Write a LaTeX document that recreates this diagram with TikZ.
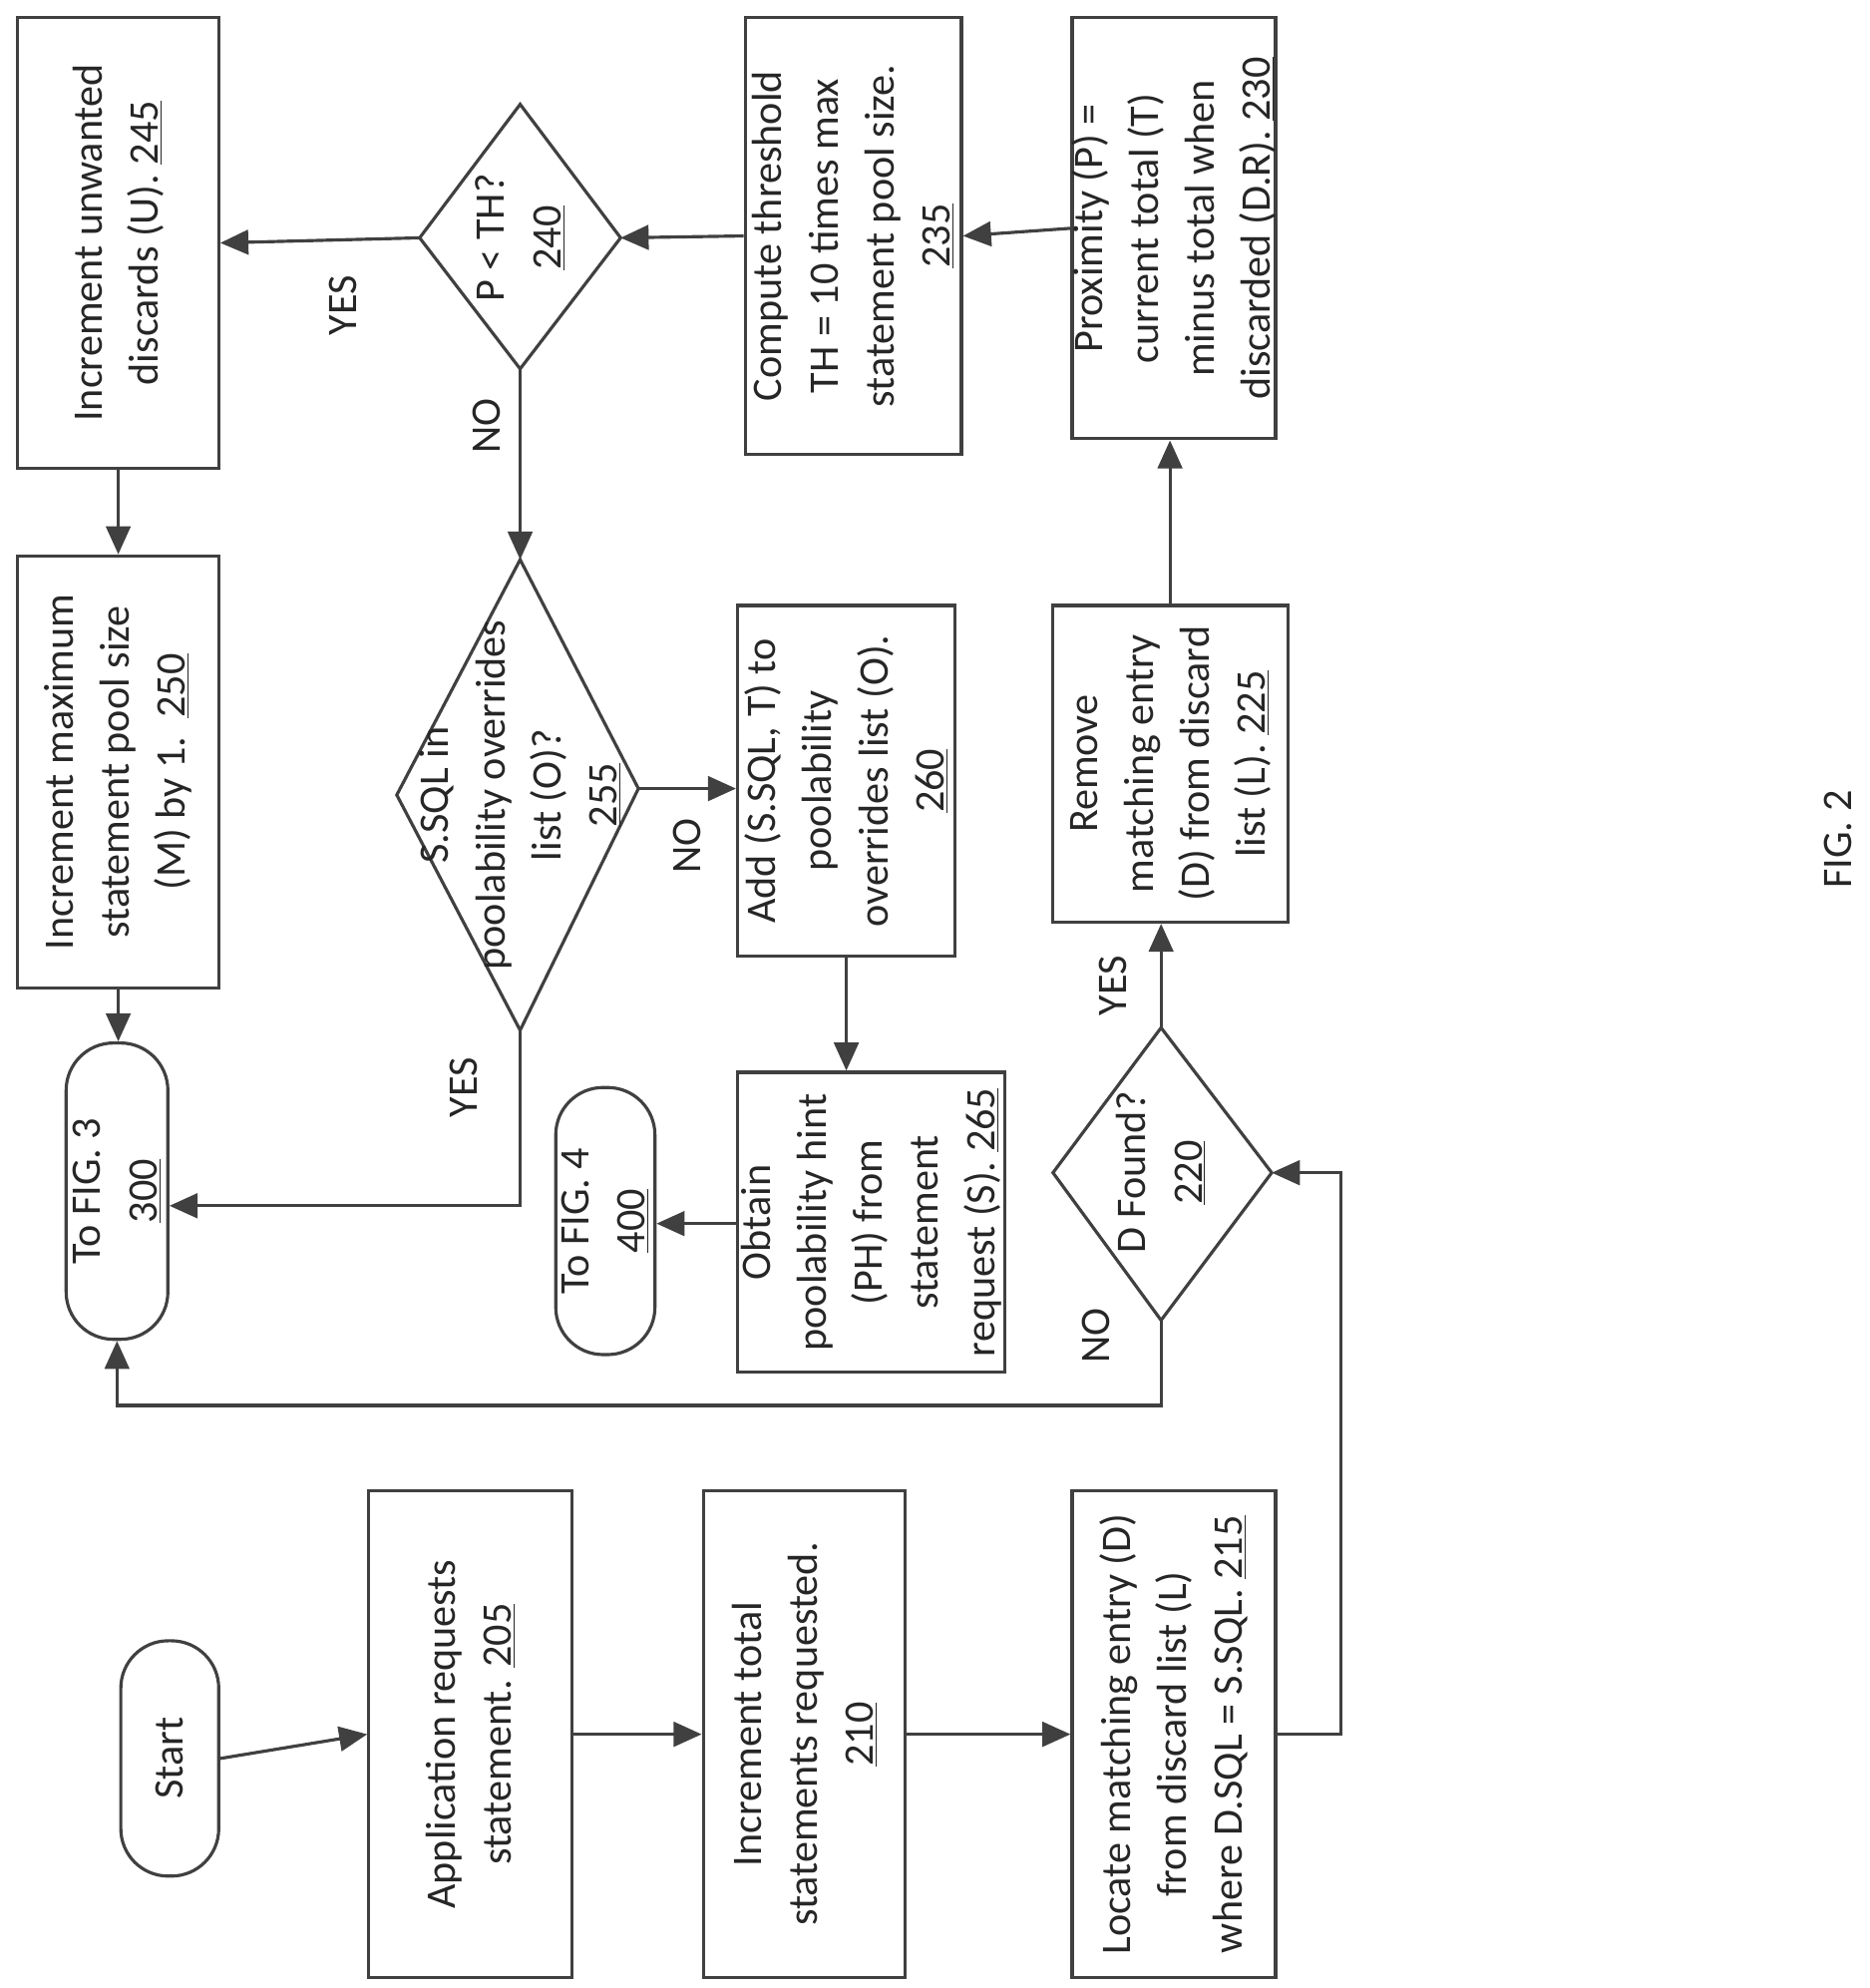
\documentclass[tikz,border=0pt]{standalone}
\usepackage{fontspec}
\setmainfont{Carlito}
\usetikzlibrary{fit,arrows.meta}
\begin{document}
\begin{tikzpicture}[x=0.0255cm,y=-0.0255cm,
  ln/.style={draw=black!75,line width=1.8pt},
  box/.style={ln,inner sep=0pt},
  term/.style={box,rounded corners=0.95cm},
  txt/.style={rotate=90,align=center,font=\fontsize{24}{32}\selectfont,text=black!85},
  lab/.style={rotate=90,font=\fontsize{24}{32}\selectfont,text=black!85},
  arr/.style={ln,-{Triangle[length=16pt,width=14pt]}}]
\useasboundingbox (0,0) rectangle (1470,1563);
\newcommand\mybox[7]{\node[#1,fit={(#3,#4) (#5,#6)}] (#2) {};\node[txt] at (#2.center) {#7};}
% left column
\mybox{term}{start}{95}{1290}{172}{1475}{Start}
\mybox{box}{b205}{290}{1172}{450}{1555}{Application requests\\statement. \underline{205}}
\mybox{box}{b210}{553}{1172}{712}{1555}{Increment total\\statements requested.\\\underline{210}}
\mybox{box}{b215}{843}{1172}{1003}{1555}{Locate matching entry (D)\\from discard list (L)\\where D.SQL = S.SQL. \underline{215}}
\mybox{box}{b225}{828}{476}{1013}{725}{Remove\\matching entry\\(D) from discard\\list (L). \underline{225}}
\mybox{box}{b230}{843}{14}{1003}{345}{Proximity (P) =\\current total (T)\\minus total when\\discarded (D.R). \underline{230}}
\mybox{box}{b235}{586}{14}{756}{357}{Compute threshold\\TH = 10 times max\\statement pool size.\\\underline{235}}
\mybox{box}{b245}{14}{14}{172}{368}{Increment unwanted\\discards (U). \underline{245}}
\mybox{box}{b250}{14}{437}{172}{777}{Increment maximum\\statement pool size\\(M) by 1.~~\underline{250}}
\mybox{box}{b260}{580}{476}{751}{752}{Add (S.SQL, T) to\\poolability\\overrides list (O).\\\underline{260}}
\mybox{box}{b265}{580}{843}{790}{1079}{Obtain\\poolability hint\\(PH) from\\statement\\request (S). \underline{265}}
\mybox{term}{f4}{437}{855}{515}{1065}{To FIG. 4\\\underline{400}}
\mybox{term}{f3}{52}{820}{132}{1053}{To FIG. 3\\\underline{300}}
% diamonds
\coordinate (d220l) at (828,922); \coordinate (d220r) at (1000,922);
\coordinate (d220t) at (913,808); \coordinate (d220b) at (913,1038);
\draw[ln,line join=miter] (d220l)--(d220t)--(d220r)--(d220b)--cycle;
\node[txt] (d220) at (913,922) {D Found?\\\underline{220}};
\coordinate (d240l) at (330,187); \coordinate (d240r) at (488,187);
\coordinate (d240t) at (409,82); \coordinate (d240b) at (409,290);
\draw[ln] (d240l)--(d240t)--(d240r)--(d240b)--cycle;
\node[txt] (d240) at (409,187) {P < TH?\\\underline{240}};
\coordinate (d255l) at (312,625); \coordinate (d255r) at (502,620);
\coordinate (d255t) at (409,440); \coordinate (d255b) at (409,810);
\draw[ln] (d255l)--(d255t)--(d255r)--(d255b)--cycle;
\node[txt] (d255) at (409,625) {S.SQL in\\poolability overrides\\list (O)?\\\underline{255}};
% arrows
\draw[arr] (start.east) -- (b205.west);
\draw[arr] (b205.east) -- (b210.west);
\draw[arr] (b210.east) -- (b215.west);
\draw[arr] (b215.east) -| ++(50,0) |- (d220r);
\draw[arr] (d220t) -- (b225.south -| d220t);
\draw[arr] (d220b) -- ++(0,67) -| (f3.south);
\draw[arr] (b225.north -| 920,0) -- (b230.south -| 920,0);
\draw[arr] (b230.west) -- (b235.east);
\draw[arr] (b235.west) -- (d240r);
\draw[arr] (d240l) -- (b245.east);
\draw[arr] (d240b) -- (d255t);
\draw[arr] (b245.south) -- (b250.north);
\draw[arr] (b250.south) -- (f3.north -| b250.south);
\draw[arr] (d255b) |- (f3.east |- 0,948);
\draw[arr] (d255r) -- (b260.west |- d255r);
\draw[arr] (b260.south) -- (b265.north -| b260.south);
\draw[arr] (b265.west |- 0,962) -- (f4.east |- 0,962);
% labels
\node[lab] at (875,775) {YES};
\node[lab] at (862,1050) {NO};
\node[lab] at (270,240) {YES};
\node[lab] at (383,335) {NO};
\node[lab] at (365,855) {YES};
\node[lab] at (540,665) {NO};
\node[lab] at (1445,660) {FIG. 2};
\end{tikzpicture}
\end{document}
